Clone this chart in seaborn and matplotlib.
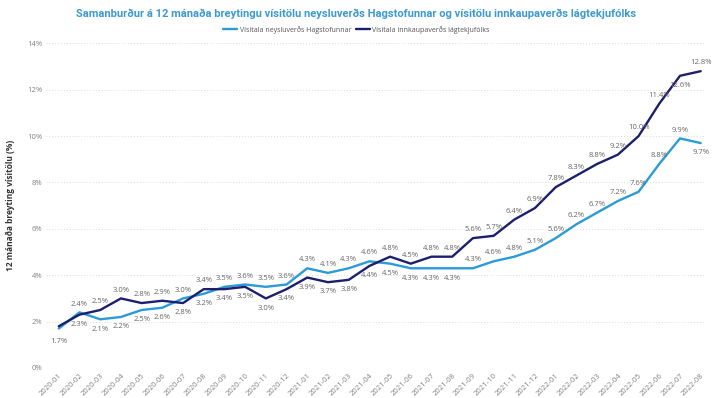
import matplotlib
matplotlib.use("Agg")
import matplotlib.pyplot as plt
import seaborn as sns
import pandas as pd

months = [
    "2020-01", "2020-02", "2020-03", "2020-04", "2020-05", "2020-06", "2020-07", "2020-08",
    "2020-09", "2020-10", "2020-11", "2020-12", "2021-01", "2021-02", "2021-03", "2021-04",
    "2021-05", "2021-06", "2021-07", "2021-08", "2021-09", "2021-10", "2021-11", "2021-12",
    "2022-01", "2022-02", "2022-03", "2022-04", "2022-05", "2022-06", "2022-07", "2022-08",
]
neysluverd = [
    1.7, 2.4, 2.1, 2.2, 2.5, 2.6, 3.0, 3.2, 3.5, 3.6, 3.5, 3.6, 4.3, 4.1, 4.3, 4.6,
    4.5, 4.3, 4.3, 4.3, 4.3, 4.6, 4.8, 5.1, 5.6, 6.2, 6.7, 7.2, 7.6, 8.8, 9.9, 9.7,
]
laegtekju = [
    1.8, 2.3, 2.5, 3.0, 2.8, 2.9, 2.8, 3.4, 3.4, 3.5, 3.0, 3.4, 3.9, 3.7, 3.8, 4.4,
    4.8, 4.5, 4.8, 4.8, 5.6, 5.7, 6.4, 6.9, 7.8, 8.3, 8.8, 9.2, 10.0, 11.4, 12.6, 12.8,
]
series_names = ["Vísitala neysluverðs Hagstofunnar", "Vísitala innkaupaverðs lágtekjufólks"]
colors = ["#2B9BD8", "#1B1F6E"]

title = "Samanburður á 12 mánaða breytingu vísitölu neysluverðs Hagstofunnar og vísitölu innkaupaverðs lágtekjufólks"
ylabel = "12 mánaða breyting vísitölu (%)"

df = pd.DataFrame({
    "x": list(range(len(months))) * 2,
    "value": neysluverd + laegtekju,
    "series": [series_names[0]] * len(months) + [series_names[1]] * len(months),
})

sns.set_theme(style="white")
plt.rcParams["font.family"] = ["Open Sans", "DejaVu Sans"]

fig = plt.figure(figsize=(7.13, 3.98), dpi=100)
ax = fig.add_axes([0.065, 0.0754, 0.925, 0.8186])

sns.lineplot(data=df, x="x", y="value", hue="series", palette=colors,
             linewidth=1.7, ax=ax, legend=False)

ax.set_xlim(-0.6, 31.25)
ax.set_ylim(0, 14.05)
ax.set_yticks(range(0, 15, 2))
ax.set_yticklabels([f"{v}%" for v in range(0, 15, 2)], fontsize=5.5, color="#808080")
ax.set_xticks(range(len(months)))
ax.set_xticklabels(months, rotation=45, ha="right", rotation_mode="anchor",
                   fontsize=5.5, color="#808080")
ax.tick_params(axis="both", length=0, pad=3)
ax.yaxis.grid(True, color="#dcdcdc", linestyle=(0, (1, 2)), linewidth=0.7)
ax.xaxis.grid(False)
for s in ax.spines.values():
    s.set_visible(False)
ax.set_xlabel("")
ax.set_ylabel(ylabel, fontsize=6, color="#333333", fontweight="bold", labelpad=9)

# data labels: higher series above, lower below, both above when gap is wide
lbl = dict(fontsize=5.5, color="#666666", ha="center")
for i in range(len(months)):
    a, b = neysluverd[i], laegtekju[i]
    wide = abs(a - b) > 0.8
    a_up = wide or a >= b
    b_up = wide or b > a
    if i == 30:
        b_up = False
    if i == 31:
        a_up = False
    if i == 0:
        ax.annotate(f"{a}%", (i, a), xytext=(0, -9), textcoords="offset points", va="center", **lbl)
        continue
    ax.annotate(f"{a}%", (i, a), xytext=(0, 6 if a_up else -7), textcoords="offset points",
                va="center", **lbl)
    ax.annotate(f"{b}%", (i, b), xytext=(0, 6 if b_up else -7), textcoords="offset points",
                va="center", **lbl)

fig.text(0.5, 0.965, title, ha="center", va="center", fontsize=8.0,
         fontweight="bold", color="#3C9AD2", family=["Roboto", "DejaVu Sans"])

handles = [plt.Line2D([], [], color=c, linewidth=1.7) for c in colors]
fig.legend(handles, series_names, loc="center", bbox_to_anchor=(0.5, 0.925), ncol=2,
           frameon=False, fontsize=5.0, handlelength=2.0, handletextpad=0.4,
           columnspacing=0.6, labelcolor="#555555")

fig.savefig("out.png", dpi=100)
